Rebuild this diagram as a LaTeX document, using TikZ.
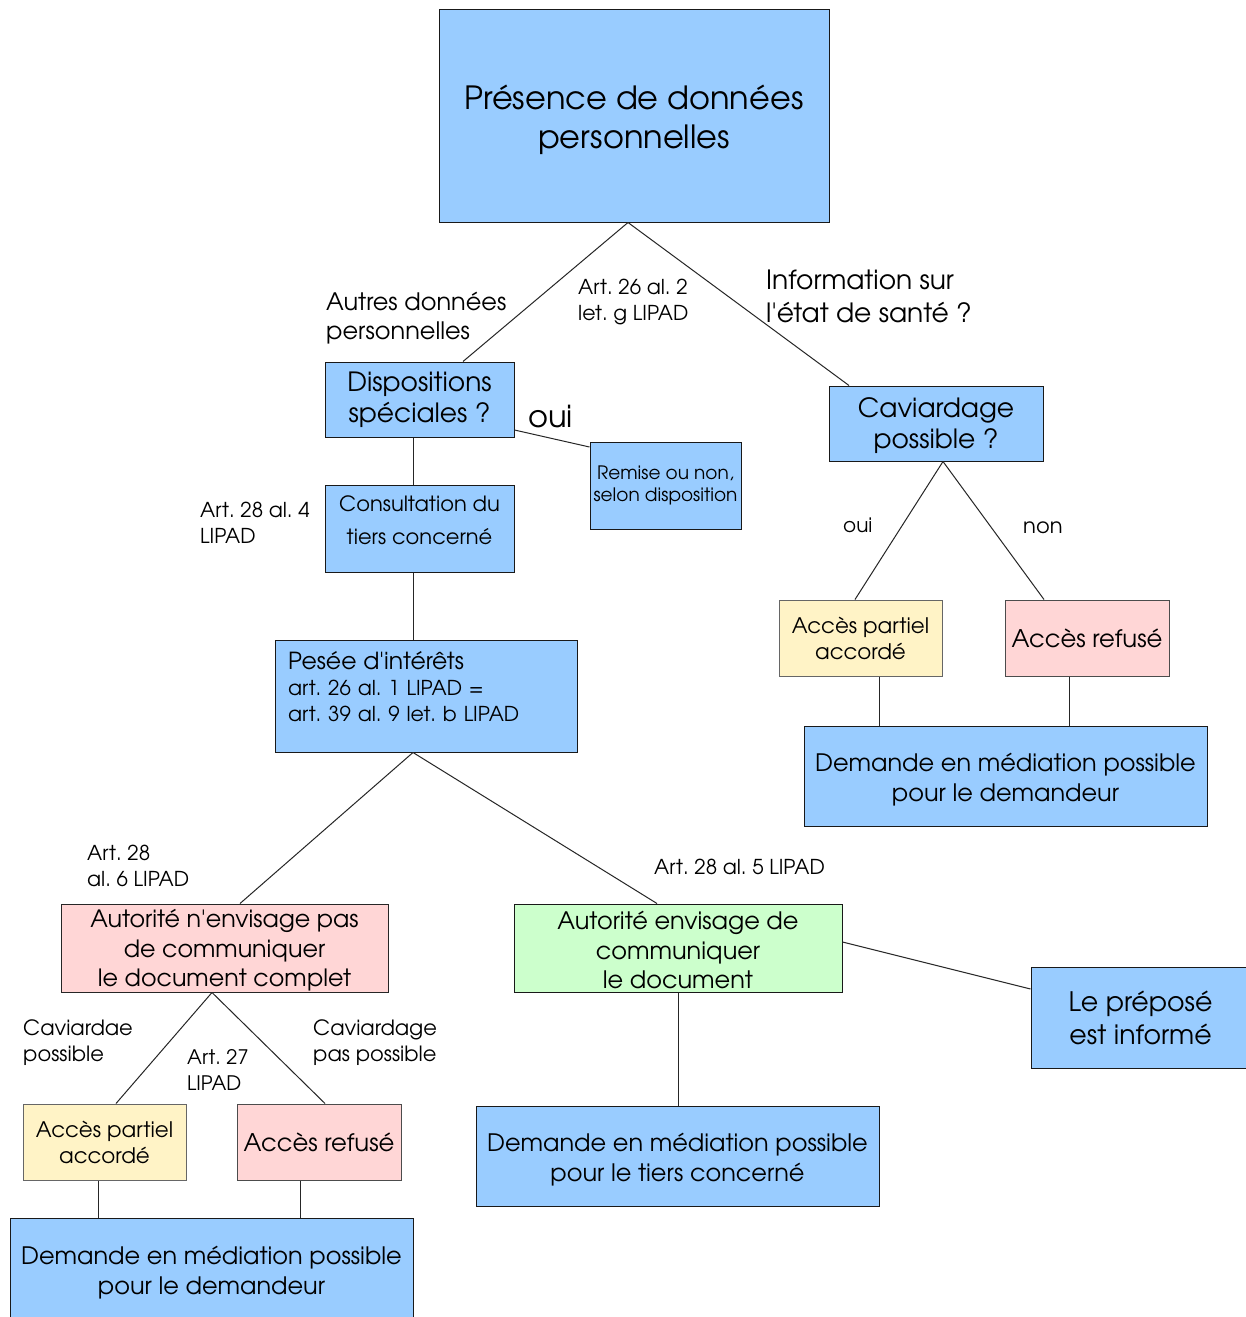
\documentclass[tikz,border=0pt]{standalone}
\usepackage{fontspec}
\setmainfont{texgyreadventor-regular.otf}
\frenchspacing
\definecolor{cblue}{HTML}{99CCFF}
\definecolor{cpink}{HTML}{FFD6D6}
\definecolor{cyellow}{HTML}{FFF3C6}
\definecolor{cgreen}{HTML}{CCFFCC}
\newcommand\fsz[2]{\fontsize{#1}{#2}\selectfont}
\newcommand\tstr[1]{\rule{0pt}{#1pt}}
\newcommand\ap{\textquotesingle}
\tikzset{
  basebox/.style={rectangle, line width=1pt, inner sep=0pt, align=center, text=black},
  bluebox/.style={basebox, draw=black!90, fill=cblue},
  pinkbox/.style={basebox, draw=black!70, fill=cpink},
  yellowbox/.style={basebox, draw=black!60, fill=cyellow},
  greenbox/.style={basebox, draw=black!90, fill=cgreen},
  lbl/.style={inner sep=0pt, anchor=west, align=left, text=black},
  conn/.style={line width=1pt, draw=black!85}
}
\begin{document}
\begin{tikzpicture}[x=1pt,y=-1pt]
\useasboundingbox (0,0) rectangle (1245,1317);
\fill[white] (0,0) rectangle (1245,1317);
% boxes
\node[bluebox, minimum width=390pt, minimum height=213pt, font=\fsz{32}{39}] (top) at (634,115.5) {\tstr{34}Présence de données\\personnelles};
\node[bluebox, minimum width=189pt, minimum height=75pt, font=\fsz{26.5}{31}] (disp) at (419.5,399.5) {Dispositions\\spéciales ?};
\node[bluebox, minimum width=151pt, minimum height=87pt, font=\fsz{18.5}{22}] (remise) at (665.5,485.5) {Remise ou non,\\selon disposition};
\node[bluebox, minimum width=189pt, minimum height=87pt, font=\fsz{21}{33}] (consult) at (419.5,528.5) {Consultation du\\tiers concerné\\[-16pt]\mbox{}};
\node[bluebox, minimum height=112pt, text width=276pt, inner xsep=13pt, align=left, font=\fsz{20.5}{26}] (pesee) at (426,696) {{\fsz{23.5}{26}Pesée d\ap intérêts}\\art. 26 al. 1 LIPAD =\\art. 39 al. 9 let. b LIPAD\\[-6pt]\mbox{}};
\node[pinkbox, draw=black!85, minimum width=327pt, minimum height=88pt, font=\fsz{23.8}{29.5}] (autn) at (224.5,948) {\tstr{23}Autorité n\ap envisage pas\\de communiquer\\le document complet};
\node[greenbox, minimum width=328pt, minimum height=88pt, font=\fsz{24}{29.5}] (aute) at (678,948) {\tstr{23}Autorité envisage de\\communiquer\\le document};
\node[bluebox, minimum width=219pt, minimum height=101pt, font=\fsz{26.8}{33}] (prep) at (1140.5,1017.5) {Le préposé\\est informé};
\node[bluebox, minimum width=403pt, minimum height=100pt, font=\fsz{24}{30}] (demt) at (677.5,1156) {\tstr{26}Demande en médiation possible\\pour le tiers concerné};
\node[yellowbox, minimum width=163pt, minimum height=76pt, font=\fsz{21.4}{26}] (apl) at (104.5,1142) {Accès partiel\\accordé};
\node[pinkbox, minimum width=164pt, minimum height=76pt, font=\fsz{24.3}{28}] (arl) at (319,1142) {Accès refusé};
\node[bluebox, minimum width=403pt, minimum height=102pt, font=\fsz{24}{30}] (deml) at (211.5,1269) {\tstr{25}Demande en médiation possible\\pour le demandeur};
\node[bluebox, minimum width=214pt, minimum height=75pt, font=\fsz{26.5}{31}] (cav) at (936,423.5) {\tstr{25}Caviardage\\possible ?};
\node[yellowbox, minimum width=163pt, minimum height=76pt, font=\fsz{21.4}{26}] (apr) at (860.5,638) {Accès partiel\\accordé};
\node[pinkbox, minimum width=164pt, minimum height=76pt, font=\fsz{24.3}{28}] (arr) at (1087,638) {Accès refusé};
\node[bluebox, minimum width=403pt, minimum height=100pt, font=\fsz{24}{30}] (demr) at (1005.5,776) {\tstr{26}Demande en médiation possible\\pour le demandeur};
% connectors
\draw[conn] ([xshift=-6pt]top.south) -- ([xshift=43.5pt]disp.north);
\draw[conn] ([xshift=-6pt]top.south) -- ([xshift=-87pt]cav.north);
\draw[conn] ([yshift=-30.5pt]disp.east) -- ([yshift=38.5pt]remise.west);
\draw[conn] ([xshift=-6.5pt]disp.south) -- ([xshift=-6.5pt]consult.north);
\draw[conn] ([xshift=-6.5pt]consult.south) -- ([xshift=-13pt]pesee.north);
\draw[conn] ([xshift=-13pt]pesee.south) -- ([xshift=15.5pt]autn.north);
\draw[conn] ([xshift=-13pt]pesee.south) -- ([xshift=-21pt]aute.north);
\draw[conn] ([yshift=6pt]aute.east) -- ([yshift=28.5pt]prep.west);
\draw[conn] (aute.south) -- ([xshift=0.5pt]demt.north);
\draw[conn] ([xshift=-12.5pt]autn.south) -- ([xshift=11.5pt]apl.north);
\draw[conn] ([xshift=-12.5pt]autn.south) -- ([xshift=6pt]arl.north);
\draw[conn] ([xshift=-6.5pt]apl.south) -- ([xshift=-113.5pt]deml.north);
\draw[conn] ([xshift=-19pt]arl.south) -- ([xshift=88.5pt]deml.north);
\draw[conn] ([xshift=7pt]cav.south) -- ([xshift=-5.5pt]apr.north);
\draw[conn] ([xshift=7pt]cav.south) -- ([xshift=-43pt]arr.north);
\draw[conn] ([xshift=18.5pt]apr.south) -- ([xshift=-126.5pt]demr.north);
\draw[conn] ([xshift=-18pt]arr.south) -- ([xshift=63.5pt]demr.north);
% labels
\node[lbl, font=\fsz{24}{29}] (lautres) at (326,318) {Autres données\\personnelles};
\node[lbl, font=\fsz{20.5}{26}] (lart26) at (578,302) {Art. 26 al. 2\\let. g LIPAD};
\node[lbl, font=\fsz{26.5}{33}] (linfo) at (766,296.5) {Information sur\\l\ap état de santé ?};
\node[lbl, font=\fsz{30.5}{30}] (loui1) at (528,417) {oui};
\node[lbl, font=\fsz{20.5}{26}] (lart284) at (200,523) {Art. 28 al. 4\\LIPAD};
\node[lbl, font=\fsz{20}{26}] (loui2) at (843,525) {oui};
\node[lbl, font=\fsz{21}{26}] (lnon) at (1023,528) {non};
\node[lbl, font=\fsz{20.5}{26}] (lart286) at (87,866) {Art. 28\\al. 6 LIPAD};
\node[lbl, font=\fsz{20.5}{26}] (lart285) at (654,867) {Art. 28 al. 5 LIPAD};
\node[lbl, font=\fsz{21}{26}] (lcav1) at (23,1043) {Caviardae\\possible};
\node[lbl, font=\fsz{20}{26}] (lart27) at (187,1070) {Art. 27\\LIPAD};
\node[lbl, font=\fsz{21}{26}] (lcav2) at (313,1043) {Caviardage\\pas possible};
\end{tikzpicture}
\end{document}
